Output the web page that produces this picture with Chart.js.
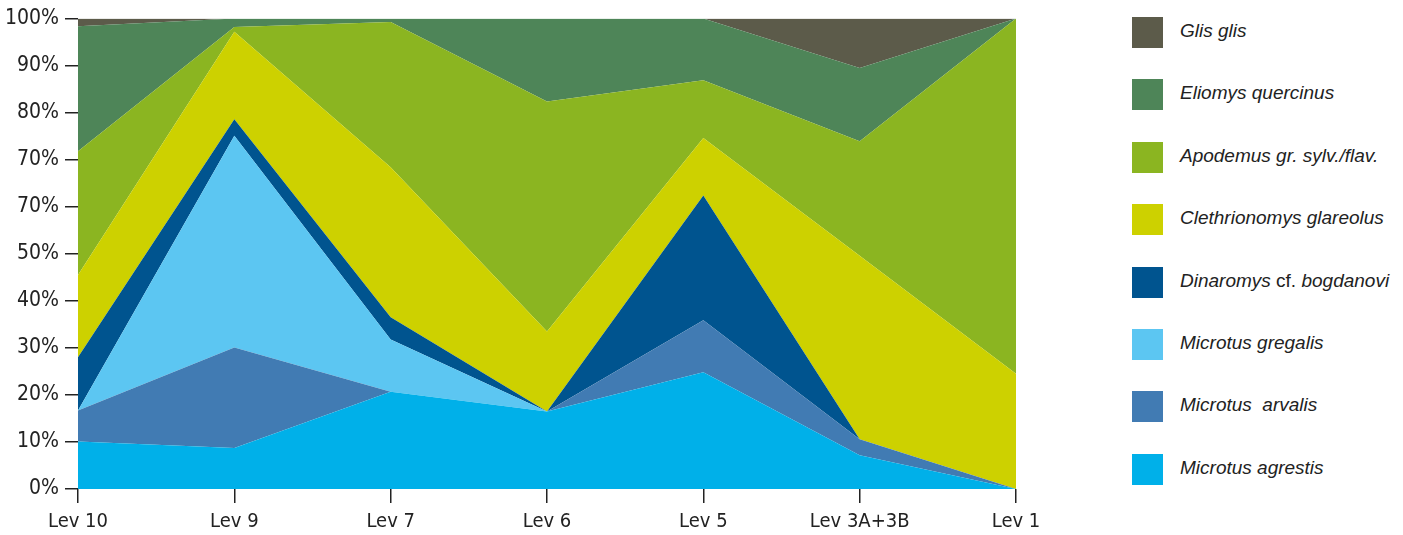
<!DOCTYPE html>
<html>
<head>
<meta charset="utf-8">
<script src="https://cdn.jsdelivr.net/npm/chart.js@4"></script>
<style>
  html, body { margin: 0; padding: 0; background: #fff; }
  #wrap { position: relative; width: 1403px; height: 535px; }
  #chart-box { position: absolute; left: 0; top: 0; width: 1050px; height: 535px; }
  #legend { position: absolute; left: 1132px; top: 17px; margin: 0; padding: 0; list-style: none; }
  #legend li { position: relative; height: 62.4px; }
  #legend .box { position: absolute; left: 0; top: 0; width: 31px; height: 31px; }
  #legend .txt {
    position: absolute; left: 48px; top: 3px; white-space: pre;
    font-family: 'Liberation Sans', Arial, sans-serif; font-style: italic;
    font-size: 19px; color: #222;
  }
  #legend .txt .up { font-style: normal; }
</style>
</head>
<body>
<div id="wrap">
  <div id="chart-box"><canvas id="species-chart"></canvas></div>
  <ul id="legend"></ul>
</div>
<script>
const levels = ['Lev 10', 'Lev 9', 'Lev 7', 'Lev 6', 'Lev 5', 'Lev 3A+3B', 'Lev 1'];
const yTickLabels = ['0%', '10%', '20%', '30%', '40%', '50%', '70%', '70%', '80%', '90%', '100%'];

// shares in % per level, bottom of the stack first
const agrestis = [10.1, 8.7, 20.7, 16.5, 24.8, 7.2, 0];
const arvalis = [6.6, 21.4, 0, 0, 11.1, 3.4, 0];
const gregalis = [0, 45.0, 11.1, 0, 0, 0, 0];
const dinaromys = [11.3, 3.5, 4.7, 0, 26.5, 0, 0];
const clethrionomys = [17.5, 18.6, 31.9, 17.0, 12.2, 39.0, 24.5];
const apodemus = [26.3, 1.0, 30.9, 48.9, 12.3, 24.3, 75.5];
const eliomys = [26.6, 1.8, 0.7, 17.6, 13.1, 15.6, 0];
const glis = [1.6, 0, 0, 0, 0, 10.5, 0];

const names = ['Microtus agrestis', 'Microtus  arvalis', 'Microtus gregalis', 'Dinaromys cf. bogdanovi',
  'Clethrionomys glareolus', 'Apodemus gr. sylv./flav.', 'Eliomys quercinus', 'Glis glis'];
const colors = ['#00b0e9', '#417bb3', '#5cc6f2', '#00548f', '#cdd100', '#8bb521', '#4e8558', '#5c5b4a'];
const series = [agrestis, arvalis, gregalis, dinaromys, clethrionomys, apodemus, eliomys, glis];

const datasets = series.map((values, i) => ({
  label: names[i],
  data: values,
  backgroundColor: colors[i],
  borderColor: colors[i],
  borderWidth: 0,
  pointRadius: 0,
  tension: 0,
  fill: i === 0 ? 'origin' : '-1',
}));

const fontFamily = "'Liberation Sans Narrow', 'DejaVu Sans Condensed', Arial";

new Chart(document.getElementById('species-chart'), {
  type: 'line',
  data: { labels: levels, datasets },
  options: {
    responsive: true,
    maintainAspectRatio: false,
    animation: false,
    layout: { padding: { top: 17, right: 34, left: 0, bottom: 0 } },
    plugins: { legend: { display: false }, tooltip: { enabled: false } },
    scales: {
      x: {
        offset: false,
        border: { display: false },
        grid: { drawOnChartArea: false, tickLength: 14, color: '#222', lineWidth: 1.5 },
        ticks: { color: '#222', font: { family: fontFamily, size: 20 }, padding: 7, maxRotation: 0, autoSkip: false },
        afterFit(scale) { scale.height = 46; },
      },
      y: {
        stacked: true,
        min: 0,
        max: 100,
        border: { display: false },
        grid: { drawOnChartArea: false, tickLength: 13, color: '#222', lineWidth: 1.5 },
        ticks: {
          stepSize: 10,
          color: '#222',
          font: { family: fontFamily, size: 21 },
          padding: 6,
          callback: (v) => yTickLabels[Math.round(v / 10)],
        },
        afterFit(scale) { scale.width = 78; },
      },
    },
  },
});

// html legend, top of the stack first; "cf." stays upright
const legend = document.getElementById('legend');
for (let i = names.length - 1; i >= 0; i--) {
  const li = document.createElement('li');
  const box = document.createElement('span');
  box.className = 'box';
  box.style.background = colors[i];
  const txt = document.createElement('span');
  txt.className = 'txt';
  const parts = names[i].split(' cf. ');
  txt.textContent = parts[0];
  if (parts.length > 1) {
    const up = document.createElement('span');
    up.className = 'up';
    up.textContent = ' cf. ';
    txt.appendChild(up);
    txt.appendChild(document.createTextNode(parts[1]));
  }
  li.appendChild(box);
  li.appendChild(txt);
  legend.appendChild(li);
}
</script>
</body>
</html>
